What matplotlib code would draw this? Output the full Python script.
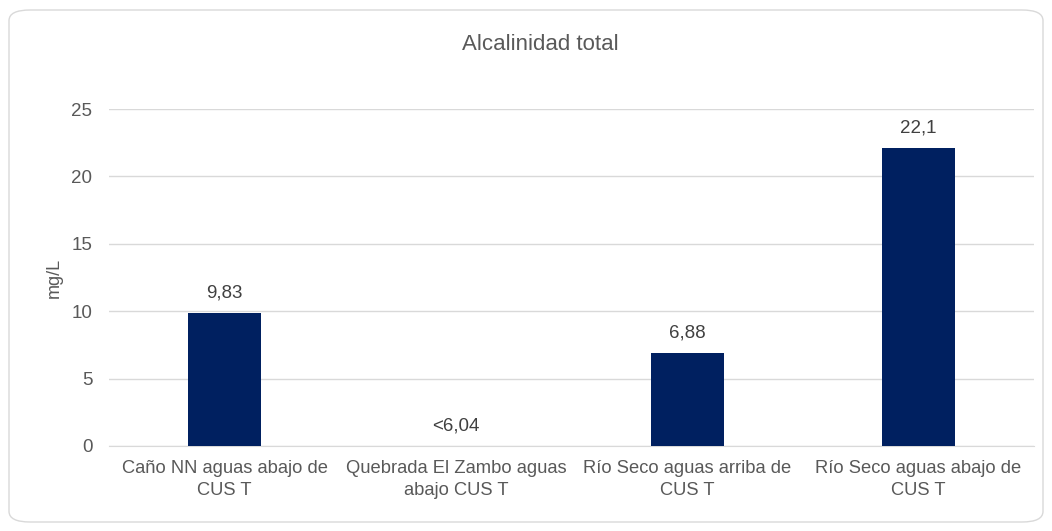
import matplotlib
matplotlib.use("Agg")
import matplotlib.pyplot as plt
from matplotlib.patches import FancyBboxPatch

categories = ["Caño NN aguas abajo de\nCUS T",
              "Quebrada El Zambo aguas\nabajo CUS T",
              "Río Seco aguas arriba de\nCUS T",
              "Río Seco aguas abajo de\nCUS T"]
values = [9.83, 0.0, 6.88, 22.1]
labels = ["9,83", "<6,04", "6,88", "22,1"]
yticks = [0, 5, 10, 15, 20, 25]

plt.rcParams['font.family'] = ['Liberation Sans', 'DejaVu Sans']
txt = '#595959'

fig = plt.figure(figsize=(10.52, 5.31), dpi=100)
fig.patches.append(FancyBboxPatch((9/1052, 9/531), 1034/1052, 512/531,
                                  boxstyle="round,pad=0,rounding_size=0.02",
                                  transform=fig.transFigure, fill=False,
                                  edgecolor='#d9d9d9', linewidth=1.0))
ax = fig.add_axes([109/1052, 1-446/531, 925/1052, 337/531])
x = list(range(len(categories)))
ax.bar(x, values, width=0.315, color='#002060', zorder=3)
for xi, v, l in zip(x, values, labels):
    ax.annotate(l, (xi, v), xytext=(0, 14.4), textcoords='offset points',
                ha='center', va='center', fontsize=13.5, color='#404040')
ax.set_xlim(-0.5, len(categories) - 0.5)
ax.set_ylim(0, 25)
ax.set_yticks(yticks)
ax.set_yticklabels([str(t) for t in yticks])
ax.set_xticks(x)
ax.set_xticklabels(categories, fontsize=13.2, color=txt, linespacing=1.4)
ax.tick_params(axis='y', labelsize=13.5, labelcolor=txt, length=0, pad=12)
ax.tick_params(axis='x', length=0, pad=10)
ax.grid(axis='y', color='#d9d9d9', linewidth=1, zorder=0)
for s in ['top', 'right', 'left']:
    ax.spines[s].set_visible(False)
ax.spines['bottom'].set_color('#d9d9d9')
ax.set_ylabel('mg/L', fontsize=13, color=txt, labelpad=6)
fig.text(540/1052, 1-45/531, 'Alcalinidad total', ha='center', va='center',
         fontsize=16, color=txt)
fig.savefig('out.png', dpi=100)
